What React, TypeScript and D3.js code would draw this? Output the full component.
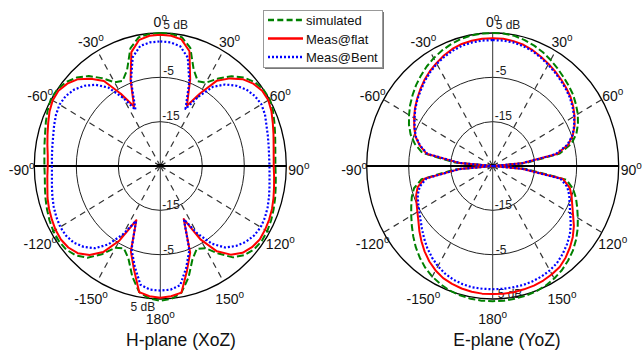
import React, { useEffect, useRef } from 'react';
import * as d3 from 'd3';

// angle grid in degrees, clockwise from the top; 185..355 is the -175..-5 side
const angles = d3.range(0, 360, 5);

// H-plane (XoZ), dB
const hSim = [
  5.0, 4.9, 4.5, 2.6, -1.8, -3.9, -3.3, -0.9, 1.4, 3.2, 4.4, 5.0, 5.1, 4.6, 3.9, 3.3, 2.8, 2.5,
  2.4, 2.6, 2.9, 3.3, 3.7, 4.1, 4.4, 4.5, 4.2, 3.4, 1.9, -0.9, -3.6, -4.4, -2.6, 1.0, 4.0, 5.1,
  5.4, 5.0, 3.9, 0.8, -2.8, -4.5, -3.7, -0.7, 2.0, 3.5, 4.3, 4.5, 4.4, 4.1, 3.7, 3.3, 2.9, 2.6,
  2.6, 2.7, 3.0, 3.4, 4.0, 4.6, 5.1, 5.0, 4.4, 3.2, 1.5, -0.8, -3.2, -3.8, -1.9, 2.5, 4.5, 4.9,
];
const hFlat = [
  4.6, 4.5, 4.0, 1.8, -4.2, -10.0, -6.1, -1.5, 0.8, 2.7, 3.9, 4.6, 4.7, 4.2, 3.5, 2.9, 2.4, 2.1,
  2.0, 2.2, 2.5, 2.9, 3.3, 3.6, 3.8, 3.9, 3.5, 2.7, 1.1, -1.5, -5.9, -11.8, -4.2, -0.5, 4.0, 4.5,
  4.7, 4.5, 3.9, -0.8, -4.5, -11.5, -5.6, -1.3, 1.2, 2.8, 3.6, 3.9, 3.8, 3.5, 3.2, 2.8, 2.3, 2.0,
  1.8, 1.9, 2.3, 2.8, 3.4, 4.1, 4.6, 4.6, 3.9, 2.7, 0.7, -1.6, -6.2, -10.2, -4.3, 1.6, 3.9, 4.5,
];
const hBent = [
  3.1, 3.0, 2.4, 0.3, -4.8, -10.8, -7.0, -3.2, -1.0, 0.6, 1.8, 2.5, 2.8, 2.5, 1.9, 1.5, 1.2, 1.0,
  1.0, 1.1, 1.4, 1.8, 2.2, 2.5, 2.6, 2.3, 1.6, 0.5, -1.0, -3.6, -7.5, -11.7, -4.8, -1.2, 2.3, 3.0,
  3.1, 3.0, 2.2, -1.5, -5.0, -11.3, -7.2, -3.4, -0.8, 0.8, 1.9, 2.4, 2.5, 2.3, 2.0, 1.6, 1.2, 0.9,
  0.8, 0.9, 1.1, 1.4, 1.9, 2.4, 2.7, 2.5, 1.8, 0.6, -1.1, -3.4, -7.2, -11.0, -4.6, 0.4, 2.5, 3.0,
];

// E-plane (YoZ), dB
const eSim = [
  5.0, 5.0, 4.8, 4.4, 3.9, 3.3, 2.6, 1.9, 1.2, 0.6, 0.0, -0.8, -1.6, -2.6, -3.8, -5.6, -8.8, -17,
  -25, -17, -7.2, -5.2, -3.9, -2.8, -1.6, -0.3, 0.9, 2.0, 2.9, 3.7, 4.3, 4.8, 5.1, 5.3, 5.4, 5.5,
  5.5, 5.5, 5.4, 5.2, 4.9, 4.4, 3.8, 3.0, 2.0, 0.9, -0.3, -1.5, -2.6, -3.6, -4.5, -5.6, -7.8, -16,
  -25, -16, -8.0, -5.8, -4.2, -3.0, -2.0, -1.0, -0.1, 0.8, 1.6, 2.4, 3.1, 3.7, 4.2, 4.6, 4.9, 5.0,
];
const eFlat = [
  3.8, 3.8, 3.6, 3.3, 2.8, 2.2, 1.6, 1.0, 0.4, -0.2, -0.8, -1.6, -2.5, -3.5, -4.7, -6.4, -9.5, -18,
  -25, -18, -8.0, -6.0, -5.0, -4.1, -2.9, -1.4, -0.1, 1.0, 2.0, 2.8, 3.2, 3.5, 3.7, 3.8, 3.9, 3.9,
  3.9, 3.9, 3.8, 3.6, 3.3, 2.9, 2.2, 1.3, 0.2, -1.0, -2.2, -3.4, -4.3, -5.0, -5.6, -6.5, -8.5, -17,
  -25, -17, -9.0, -7.0, -5.4, -4.4, -3.4, -2.4, -1.5, -0.6, 0.3, 1.1, 1.8, 2.5, 3.1, 3.5, 3.7, 3.8,
];
const eBent = [
  3.4, 3.4, 3.3, 3.0, 2.6, 2.0, 1.4, 0.8, 0.2, -0.4, -1.0, -1.8, -2.6, -3.6, -4.8, -6.6, -9.8, -18,
  -25, -18, -8.6, -6.6, -5.6, -4.8, -3.7, -2.3, -1.0, 0.0, 0.9, 1.7, 2.2, 2.5, 2.7, 2.8, 2.8, 2.8,
  2.8, 2.8, 2.8, 2.6, 2.3, 1.8, 1.1, 0.2, -0.8, -1.9, -3.0, -4.0, -4.8, -5.4, -6.0, -7.0, -9.0, -17,
  -25, -17, -9.2, -7.1, -5.5, -4.5, -3.5, -2.5, -1.6, -0.8, 0.1, 0.9, 1.6, 2.2, 2.7, 3.1, 3.3, 3.4,
];

const ringLevels = [5, -5, -15];
const spokeAngles = [30, 60, 120, 150, -150, -120, -60, -30];
const angleLabels = [0, 30, 60, 90, 120, 150, 180, -150, -120, -90, -60, -30];
const seriesNames = ['simulated', 'Meas@flat', 'Meas@Bent'];

const colors = ['#008000', '#ff0000', '#0000ff'];
const dashes = ['7,3', null, '2,2'];
const widths = [2, 2, 2.2];

const plots = [
  { title: 'H-plane (XoZ)', cx: 160.3, titleDx: 20.7, data: [hSim, hFlat, hBent], bottomDbRight: false },
  { title: 'E-plane (YoZ)', cx: 492.7, titleDx: 14.3, data: [eSim, eFlat, eBent], bottomDbRight: true },
];

const FONT = '"Liberation Sans", Arial, sans-serif';

const App = () => {
  const ref = useRef<SVGSVGElement>(null);

  const graph = () => {
    const svg = d3.select(ref.current);
    svg.selectAll('*').remove();

    const cy = 166, rx = 126, ry = 133;
    const r = d3.scaleLinear().domain([-25, 5]).range([0, 1]);
    const rad = (deg: number) => (deg * Math.PI) / 180;

    plots.forEach((p) => {
      const g = svg.append('g');
      const px = (deg: number, v: number) => p.cx + r(v) * rx * Math.sin(rad(deg));
      const py = (deg: number, v: number) => cy - r(v) * ry * Math.cos(rad(deg));

      g.selectAll('ellipse.ring')
        .data(ringLevels)
        .enter()
        .append('ellipse')
        .attr('class', 'ring')
        .attr('cx', p.cx)
        .attr('cy', cy)
        .attr('rx', (d) => r(d) * rx)
        .attr('ry', (d) => r(d) * ry)
        .attr('fill', 'none')
        .attr('stroke', (d) => (d === 5 ? '#000' : '#222'))
        .attr('stroke-width', (d) => (d === 5 ? 1.3 : 1));

      g.selectAll('line.spoke')
        .data(spokeAngles)
        .enter()
        .append('line')
        .attr('class', 'spoke')
        .attr('x1', p.cx)
        .attr('y1', cy)
        .attr('x2', (d) => px(d, 5))
        .attr('y2', (d) => py(d, 5))
        .attr('stroke', '#333')
        .attr('stroke-width', 1.2)
        .attr('stroke-dasharray', '6,5');

      g.append('line')
        .attr('x1', p.cx).attr('y1', py(0, 5))
        .attr('x2', p.cx).attr('y2', py(180, 5))
        .attr('stroke', '#333').attr('stroke-width', 1);
      g.append('line')
        .attr('x1', px(-90, 5)).attr('y1', cy)
        .attr('x2', px(90, 5)).attr('y2', cy)
        .attr('stroke', '#000').attr('stroke-width', 2);
      g.append('rect')
        .attr('x', p.cx - 3).attr('y', cy - 2)
        .attr('width', 6).attr('height', 3)
        .attr('fill', '#000');

      // angle labels
      const lab = g.selectAll('text.ang')
        .data(angleLabels)
        .enter()
        .append('text')
        .attr('class', 'ang')
        .attr('x', (d) => p.cx + 1.1 * rx * Math.sin(rad(d)))
        .attr('y', (d) => cy - 1.115 * ry * Math.cos(rad(d)) + 9.25)
        .attr('text-anchor', 'middle')
        .style('font-family', FONT)
        .style('font-size', '14px')
        .attr('fill', '#111');
      lab.append('tspan').text((d) => String(d));
      lab.append('tspan').attr('dy', -6).style('font-size', '10px').text('o');

      // dB labels
      const dbText = (x: number, y: number, t: string, anchor = 'start') =>
        g.append('text')
          .attr('x', x).attr('y', y)
          .attr('text-anchor', anchor)
          .style('font-family', FONT)
          .style('font-size', '12px')
          .attr('fill', '#222')
          .text(t);
      dbText(p.cx + 3, py(0, 5) - 4.5, '5 dB');
      dbText(p.cx + 3, py(0, -5) - 2, '-5');
      dbText(p.cx + 2, py(0, -15) - 1.5, '-15');
      dbText(p.cx + 2, py(180, -15) - 1.5, '-15');
      dbText(p.cx + 3, py(180, -5) - 1, '-5');
      if (p.bottomDbRight) dbText(p.cx + 5, py(180, 5) - 1, '5 dB');
      else dbText(p.cx - 5, py(180, 5) + 12, '5 dB', 'end');

      // patterns
      p.data.forEach((vals, k) => {
        const line = d3.line<number>()
          .x((v, i) => px(angles[i], v))
          .y((v, i) => py(angles[i], v))
          .curve(d3.curveLinearClosed);
        const path = g.append('path')
          .attr('d', line(vals))
          .attr('fill', 'none')
          .attr('stroke', colors[k])
          .attr('stroke-width', widths[k])
          .attr('stroke-linejoin', 'round');
        if (dashes[k]) path.attr('stroke-dasharray', dashes[k]);
      });

      g.append('text')
        .attr('x', p.cx + p.titleDx)
        .attr('y', 346)
        .attr('text-anchor', 'middle')
        .style('font-family', FONT)
        .style('font-size', '17.5px')
        .attr('fill', '#111')
        .text(p.title);
    });

    // legend
    const lg = svg.append('g');
    lg.append('rect').attr('x', 265).attr('y', 12).attr('width', 119).attr('height', 57).attr('fill', '#777');
    lg.append('rect').attr('x', 263.5).attr('y', 10.5).attr('width', 119).attr('height', 57)
      .attr('fill', '#fff').attr('stroke', '#999').attr('stroke-width', 1);
    const rowY = d3.scaleLinear().domain([0, 2]).range([20, 57]);
    seriesNames.forEach((name, k) => {
      const l = lg.append('line')
        .attr('x1', 268).attr('x2', 303)
        .attr('y1', rowY(k)).attr('y2', rowY(k))
        .attr('stroke', colors[k]).attr('stroke-width', widths[k] + 0.3);
      if (dashes[k]) l.attr('stroke-dasharray', k === 0 ? '6,3.3' : '2,2');
      lg.append('text')
        .attr('x', 306).attr('y', rowY(k) + 5)
        .style('font-family', FONT)
        .style('font-size', '13px')
        .attr('fill', '#111')
        .text(name);
    });
  };

  useEffect(() => graph());

  return (
    <svg
      ref={ref}
      width="642"
      height="352"
      style={{ position: 'absolute', left: 0, top: 0, background: '#fff' }}
    ></svg>
  );
};

export default App;
